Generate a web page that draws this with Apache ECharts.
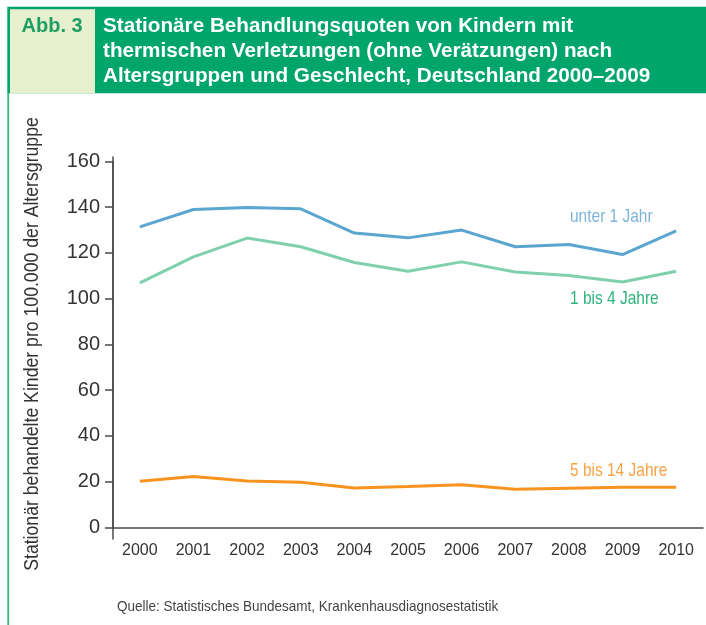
<!DOCTYPE html>
<html>
<head>
<meta charset="utf-8">
<script src="https://cdn.jsdelivr.net/npm/echarts@6/dist/echarts.min.js"></script>
<style>
html,body{margin:0;padding:0;background:#fff;}
#c{width:706px;height:625px;}
</style>
</head>
<body>
<div id="c"></div>
<script>
const years = ['2000','2001','2002','2003','2004','2005','2006','2007','2008','2009','2010'];
const under1 = [131.4, 139.0, 139.9, 139.3, 128.7, 126.6, 130.0, 122.7, 123.7, 119.3, 129.7];
const oneToFour = [106.9, 118.3, 126.5, 122.7, 115.8, 112.0, 116.1, 111.7, 110.1, 107.3, 112.0];
const fiveTo14 = [20.1, 22.2, 20.3, 19.7, 17.2, 17.8, 18.6, 16.6, 17.1, 17.5, 17.5];
const seriesNames = ['unter 1 Jahr', '1 bis 4 Jahre', '5 bis 14 Jahre'];
const titleLines = [
  'Stationäre Behandlungsquoten von Kindern mit',
  'thermischen Verletzungen (ohne Verätzungen) nach',
  'Altersgruppen und Geschlecht, Deutschland 2000–2009'
];
const figLabel = 'Abb. 3';
const yTitle = 'Stationär behandelte Kinder pro 100.000 der Altersgruppe';
const sourceText = 'Quelle: Statistisches Bundesamt, Krankenhausdiagnosestatistik';

const SANS = '"Liberation Sans", Arial, sans-serif';
const lineColors = ['#5aa6d0', '#7fd0ad', '#f7931e'];
const labelColors = ['#7db5db', '#2db37c', '#f7a345'];

const chart = echarts.init(document.getElementById('c'), null, {renderer: 'canvas'});

const graphic = [
  {type:'rect', shape:{x:7.3, y:6.7, width:698.7, height:86.6}, style:{fill:'#00a56c'}, silent:true},
  {type:'rect', shape:{x:10, y:9.3, width:85, height:84}, style:{fill:'#e6f0cf'}, silent:true},
  {type:'rect', shape:{x:7.3, y:93, width:1.8, height:532}, style:{fill:'#3ab57f'}, silent:true},
  {type:'text', x:21.5, y:26.5, style:{text:figLabel, fill:'#1f9d62', font:'bold 20px ' + SANS, verticalAlign:'middle', align:'left'}, silent:true}
];
titleLines.forEach((t, i) => {
  graphic.push({type:'text', x:103, y:26.3 + i*25, style:{text:t, fill:'#ffffff', font:'bold 20.7px ' + SANS, verticalAlign:'middle', align:'left'}, silent:true});
});
const labelPos = [[570, 216.7], [570, 299], [570, 470.7]];
seriesNames.forEach((n, i) => {
  graphic.push({type:'text', x:labelPos[i][0], y:labelPos[i][1], scaleX:0.815, style:{text:n, fill:labelColors[i], font:'19px ' + SANS, verticalAlign:'middle', align:'left'}, silent:true});
});
graphic.push({type:'text', x:117, y:607, scaleX:0.9, style:{text:sourceText, fill:'#444', font:'15px ' + SANS, verticalAlign:'middle', align:'left'}, silent:true});
graphic.push({type:'text', x:32.5, y:344, rotation:Math.PI/2, scaleX:0.883, style:{text:yTitle, fill:'#333', font:'20px ' + SANS, verticalAlign:'middle', align:'center'}, silent:true});

const axisColor = '#4a4a4a';
chart.setOption({
  animation:false,
  backgroundColor:'#ffffff',
  grid:[
    {left:113, top:161.5, width:590, bottom:97.7, containLabel:false},
    {left:113, top:157, width:590, bottom:86, containLabel:false}
  ],
  xAxis:[
    {
      type:'category',
      gridIndex:0,
      data:years,
      boundaryGap:true,
      axisLine:{lineStyle:{color:axisColor, width:1.5}},
      axisTick:{show:false},
      axisLabel:{color:'#333', fontFamily:SANS, fontSize:16, margin:15},
      splitLine:{show:false}
    },
    {type:'category', gridIndex:1, data:years, show:false}
  ],
  yAxis:[
    {
      type:'value',
      gridIndex:0,
      min:0, max:160, interval:20,
      axisLine:{show:true, lineStyle:{color:axisColor, width:1.5}},
      axisTick:{show:true, length:8, lineStyle:{color:axisColor, width:1.5}},
      axisLabel:{color:'#333', fontFamily:SANS, fontSize:20, margin:13},
      splitLine:{show:false}
    },
    {
      type:'value',
      gridIndex:1,
      min:0, max:1,
      axisLine:{show:true, lineStyle:{color:axisColor, width:1.5}},
      axisTick:{show:false},
      axisLabel:{show:false},
      splitLine:{show:false}
    }
  ],
  series:[
    {name:seriesNames[0], type:'line', data:under1, symbol:'none', lineStyle:{color:lineColors[0], width:3}},
    {name:seriesNames[1], type:'line', data:oneToFour, symbol:'none', lineStyle:{color:lineColors[1], width:3}},
    {name:seriesNames[2], type:'line', data:fiveTo14, symbol:'none', lineStyle:{color:lineColors[2], width:3}}
  ],
  graphic:graphic
});
</script>
</body>
</html>
